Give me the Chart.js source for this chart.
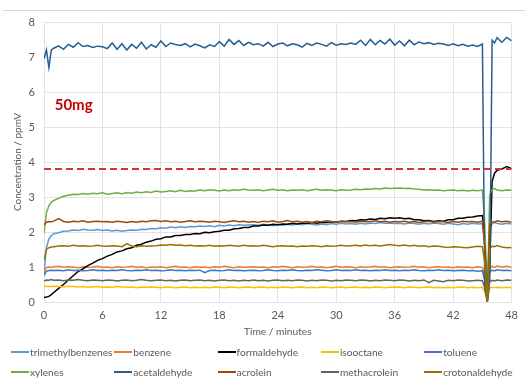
<!DOCTYPE html>
<html>
<head>
<meta charset="utf-8">
<script src="https://cdn.jsdelivr.net/npm/chart.js@4"></script>
<style>
    body { margin: 0; background: #ffffff; }
    #wrap { position: relative; width: 525px; height: 381px; background: #ffffff; font-family: Lato, 'Noto Sans', sans-serif; }
    #topRule { position: absolute; left: 3px; right: 0; top: 10px; border-top: 1px solid #d9d9d9; }
    #legend { position: absolute; left: 11px; top: 342px; display: grid; grid-template-columns: repeat(5, 103.3px); }
    .item { height: 20px; line-height: 20px; font-size: 10.2px; color: #595959; white-space: nowrap; }
    .swatch { display: inline-block; width: 18px; height: 2px; vertical-align: middle; margin-right: 1px; position: relative; top: -1px; }
</style>
</head>
<body>
<div id="wrap">
    <div id="topRule"></div>
    <canvas id="chart" width="525" height="381"></canvas>
    <div id="legend"></div>
</div>
<script>
// sample times (minutes); denser around the start and the purge at ~45.5 min
const timeMinutes = [
    0, 0.25, 0.5, 0.75, 1,
    1.5, 2, 2.5, 3, 3.5, 4, 4.5, 5, 5.5, 6,
    6.5, 7, 7.5, 8, 8.5, 9, 9.5, 10, 10.5, 11,
    11.5, 12, 12.5, 13, 13.5, 14, 14.5, 15, 15.5, 16,
    16.5, 17, 17.5, 18, 18.5, 19, 19.5, 20, 20.5, 21,
    21.5, 22, 22.5, 23, 23.5, 24, 24.5, 25, 25.5, 26,
    26.5, 27, 27.5, 28, 28.5, 29, 29.5, 30, 30.5, 31,
    31.5, 32, 32.5, 33, 33.5, 34, 34.5, 35, 35.5, 36,
    36.5, 37, 37.5, 38, 38.5, 39, 39.5, 40, 40.5, 41,
    41.5, 42, 42.5, 43, 43.5, 44, 44.5, 45,
    45.25, 45.5, 45.75, 46, 46.25, 46.5,
    47, 47.5, 48
];

const trimethylbenzenes = [
    0.80, 1.55, 1.80, 1.90, 1.95,
    1.98, 2.02, 2.03, 2.06, 2.04, 2.08, 2.06, 2.05, 2.07, 2.04,
    2.06, 2.03, 2.05, 2.02, 2.04, 2.06, 2.05, 2.08, 2.07, 2.10,
    2.09, 2.12, 2.11, 2.14, 2.12, 2.15, 2.13, 2.16, 2.15, 2.17,
    2.16, 2.18, 2.15, 2.19, 2.17, 2.20, 2.18, 2.21, 2.19, 2.20,
    2.21, 2.19, 2.22, 2.20, 2.18, 2.21, 2.19, 2.22, 2.20, 2.23,
    2.21, 2.24, 2.22, 2.20, 2.23, 2.21, 2.24, 2.22, 2.25, 2.23,
    2.24, 2.22, 2.25, 2.23, 2.26, 2.24, 2.27, 2.25, 2.26, 2.24,
    2.25, 2.23, 2.26, 2.24, 2.22, 2.25, 2.23, 2.26, 2.24, 2.22,
    2.25, 2.23, 2.21, 2.24, 2.22, 2.25, 2.23, 2.24,
    1.60, 0.02, 2.10, 2.24, 2.27, 2.25,
    2.22, 2.25, 2.23
];

const benzene = [
    0.85, 0.98, 1.00, 0.99, 1.01,
    1.02, 0.99, 1.01, 1.00, 0.98, 1.01, 0.99, 1.00, 1.02, 0.99,
    1.00, 0.98, 1.01, 0.99, 1.00, 1.02, 0.99, 1.01, 0.98, 1.00,
    0.99, 1.01, 0.98, 1.00, 1.02, 0.99, 1.00, 0.98, 1.01, 0.99,
    1.00, 0.98, 1.01, 0.99, 1.02, 1.00, 0.98, 1.01, 0.99, 1.00,
    1.01, 0.99, 1.00, 0.98, 1.01, 0.99, 1.02, 1.00, 0.98, 1.01,
    0.99, 1.00, 1.02, 0.99, 1.01, 0.98, 1.00, 1.02, 0.99, 1.01,
    1.00, 0.98, 1.01, 0.99, 1.00, 1.02, 0.99, 1.01, 0.98, 1.00,
    1.01, 0.99, 1.00, 1.02, 0.99, 1.01, 0.98, 1.00, 1.01, 0.99,
    1.00, 0.98, 1.01, 0.99, 1.00, 0.98, 1.01, 0.99,
    0.70, 0.00, 0.95, 1.02, 0.99, 1.03,
    1.00, 1.02, 0.99
];

const formaldehyde = [
    0.13, 0.14, 0.16, 0.21, 0.27,
    0.39, 0.50, 0.63, 0.75, 0.87, 0.95, 1.04, 1.11, 1.19, 1.24,
    1.31, 1.36, 1.43, 1.46, 1.52, 1.55, 1.62, 1.65, 1.71, 1.74,
    1.79, 1.81, 1.86, 1.86, 1.90, 1.90, 1.93, 1.93, 1.96, 1.95,
    1.99, 1.98, 2.01, 2.02, 2.05, 2.05, 2.09, 2.10, 2.13, 2.13,
    2.17, 2.17, 2.20, 2.19, 2.22, 2.21, 2.23, 2.22, 2.25, 2.23,
    2.26, 2.24, 2.27, 2.25, 2.28, 2.27, 2.29, 2.28, 2.31, 2.30,
    2.33, 2.32, 2.35, 2.34, 2.37, 2.36, 2.39, 2.38, 2.41, 2.39,
    2.41, 2.38, 2.39, 2.35, 2.35, 2.32, 2.33, 2.30, 2.32, 2.31,
    2.35, 2.35, 2.39, 2.39, 2.42, 2.43, 2.46, 2.47,
    1.80, 0.02, 1.00, 3.45, 3.68, 3.76,
    3.80, 3.87, 3.81
];

const isooctane = [
    0.45, 0.44, 0.45, 0.44, 0.45,
    0.44, 0.43, 0.45, 0.44, 0.43, 0.44, 0.42, 0.43, 0.44, 0.42,
    0.43, 0.42, 0.44, 0.43, 0.42, 0.43, 0.41, 0.43, 0.42, 0.43,
    0.42, 0.41, 0.43, 0.42, 0.41, 0.42, 0.43, 0.41, 0.42, 0.41,
    0.42, 0.41, 0.43, 0.42, 0.41, 0.43, 0.42, 0.41, 0.42, 0.43,
    0.41, 0.42, 0.43, 0.41, 0.42, 0.41, 0.43, 0.42, 0.41, 0.42,
    0.43, 0.41, 0.42, 0.41, 0.43, 0.42, 0.41, 0.42, 0.43, 0.41,
    0.42, 0.43, 0.41, 0.42, 0.41, 0.43, 0.42, 0.41, 0.42, 0.43,
    0.42, 0.41, 0.43, 0.42, 0.41, 0.42, 0.43, 0.41, 0.42, 0.41,
    0.42, 0.41, 0.42, 0.43, 0.41, 0.42, 0.41, 0.42,
    0.30, 0.00, 0.40, 0.42, 0.41, 0.42,
    0.41, 0.42, 0.41
];

const toluene = [
    0.75, 0.88, 0.90, 0.91, 0.90,
    0.91, 0.89, 0.92, 0.90, 0.91, 0.89, 0.90, 0.92, 0.90, 0.91,
    0.89, 0.91, 0.90, 0.92, 0.90, 0.89, 0.91, 0.90, 0.92, 0.90,
    0.91, 0.89, 0.90, 0.92, 0.90, 0.91, 0.89, 0.91, 0.90, 0.91,
    0.84, 0.90, 0.91, 0.89, 0.90, 0.92, 0.90, 0.91, 0.89, 0.90,
    0.91, 0.89, 0.90, 0.92, 0.90, 0.89, 0.91, 0.90, 0.92, 0.90,
    0.89, 0.91, 0.90, 0.92, 0.91, 0.89, 0.90, 0.92, 0.90, 0.91,
    0.90, 0.92, 0.90, 0.91, 0.89, 0.91, 0.90, 0.92, 0.90, 0.91,
    0.89, 0.91, 0.90, 0.92, 0.90, 0.89, 0.91, 0.90, 0.92, 0.90,
    0.91, 0.89, 0.90, 0.91, 0.89, 0.90, 0.88, 0.89,
    0.60, 0.00, 0.85, 0.91, 0.89, 0.92,
    0.90, 0.91, 0.89
];

const xylenes = [
    1.95, 2.55, 2.75, 2.85, 2.90,
    2.96, 3.02, 3.05, 3.08, 3.07, 3.10, 3.08, 3.11, 3.09, 3.12,
    3.08, 3.10, 3.12, 3.09, 3.13, 3.11, 3.14, 3.12, 3.15, 3.13,
    3.17, 3.14, 3.16, 3.18, 3.15, 3.19, 3.16, 3.18, 3.17, 3.20,
    3.18, 3.21, 3.19, 3.17, 3.20, 3.18, 3.21, 3.19, 3.22, 3.20,
    3.19, 3.21, 3.18, 3.20, 3.22, 3.19, 3.21, 3.18, 3.20, 3.19,
    3.21, 3.18, 3.20, 3.22, 3.19, 3.21, 3.20, 3.18, 3.21, 3.19,
    3.20, 3.22, 3.21, 3.23, 3.22, 3.24, 3.23, 3.26, 3.24, 3.25,
    3.26, 3.24, 3.25, 3.23, 3.22, 3.20, 3.21, 3.19, 3.20, 3.18,
    3.19, 3.20, 3.18, 3.19, 3.17, 3.19, 3.18, 3.20,
    2.20, 0.02, 3.05, 3.22, 3.24, 3.20,
    3.18, 3.20, 3.19
];

const acetaldehyde = [
    6.95, 7.20, 6.70, 7.20, 7.25,
    7.32, 7.22, 7.36, 7.28, 7.41, 7.30, 7.33, 7.27, 7.31, 7.29,
    7.24, 7.40, 7.22, 7.38, 7.20, 7.36, 7.25, 7.42, 7.23, 7.35,
    7.28, 7.46, 7.30, 7.40, 7.36, 7.33, 7.38, 7.29, 7.37, 7.32,
    7.26, 7.35, 7.30, 7.44, 7.31, 7.50, 7.36, 7.47, 7.33, 7.42,
    7.35, 7.38, 7.31, 7.42, 7.30, 7.37, 7.40, 7.32, 7.38, 7.35,
    7.28, 7.39, 7.33, 7.40, 7.36, 7.31, 7.41, 7.34, 7.38, 7.36,
    7.40, 7.36, 7.48, 7.33, 7.50, 7.35, 7.47, 7.37, 7.51, 7.34,
    7.46, 7.32, 7.48, 7.35, 7.43, 7.38, 7.41, 7.36, 7.39, 7.37,
    7.33, 7.38, 7.32, 7.36, 7.31, 7.34, 7.30, 7.37,
    0.40, 0.05, 0.60, 7.48, 7.40, 7.55,
    7.42, 7.56, 7.46
];

const acrolein = [
    2.20, 2.28, 2.30, 2.29, 2.31,
    2.38, 2.30, 2.28, 2.31, 2.29, 2.32, 2.28, 2.30, 2.31, 2.29,
    2.30, 2.28, 2.31, 2.29, 2.27, 2.30, 2.28, 2.31, 2.29, 2.32,
    2.33, 2.30, 2.32, 2.29, 2.31, 2.28, 2.30, 2.32, 2.29, 2.31,
    2.30, 2.28, 2.31, 2.29, 2.27, 2.30, 2.32, 2.29, 2.31, 2.28,
    2.30, 2.27, 2.31, 2.29, 2.32, 2.28, 2.30, 2.33, 2.29, 2.31,
    2.28, 2.30, 2.27, 2.31, 2.29, 2.32, 2.30, 2.28, 2.31, 2.29,
    2.30, 2.28, 2.31, 2.29, 2.30, 2.32, 2.29, 2.31, 2.28, 2.30,
    2.29, 2.31, 2.28, 2.30, 2.27, 2.29, 2.31, 2.28, 2.30, 2.29,
    2.27, 2.30, 2.28, 2.31, 2.29, 2.30, 2.28, 2.31,
    1.60, 0.03, 2.20, 2.30, 2.28, 2.32,
    2.29, 2.31, 2.28
];

const methacrolein = [
    0.60, 0.63, 0.62, 0.64, 0.62,
    0.63, 0.61, 0.63, 0.62, 0.64, 0.62, 0.61, 0.63, 0.62, 0.61,
    0.63, 0.62, 0.60, 0.62, 0.63, 0.61, 0.62, 0.64, 0.62, 0.61,
    0.62, 0.63, 0.61, 0.62, 0.60, 0.62, 0.63, 0.61, 0.62, 0.63,
    0.61, 0.62, 0.60, 0.62, 0.63, 0.61, 0.62, 0.60, 0.62, 0.61,
    0.63, 0.61, 0.62, 0.60, 0.62, 0.63, 0.61, 0.62, 0.61, 0.63,
    0.62, 0.60, 0.62, 0.61, 0.63, 0.62, 0.60, 0.62, 0.61, 0.63,
    0.62, 0.61, 0.63, 0.62, 0.60, 0.62, 0.61, 0.63, 0.62, 0.61,
    0.63, 0.62, 0.60, 0.62, 0.61, 0.63, 0.55, 0.62, 0.60, 0.58,
    0.62, 0.61, 0.63, 0.62, 0.60, 0.61, 0.62, 0.61,
    0.40, 0.00, 0.58, 0.62, 0.60, 0.63,
    0.61, 0.63, 0.62
];

const crotonaldehyde = [
    1.20, 1.50, 1.55, 1.57, 1.58,
    1.60, 1.61, 1.59, 1.62, 1.60, 1.61, 1.59, 1.60, 1.62, 1.60,
    1.59, 1.61, 1.60, 1.58, 1.67, 1.60, 1.58, 1.61, 1.59, 1.60,
    1.61, 1.63, 1.62, 1.64, 1.62, 1.63, 1.61, 1.62, 1.60, 1.61,
    1.60, 1.62, 1.59, 1.61, 1.60, 1.62, 1.61, 1.59, 1.62, 1.60,
    1.61, 1.59, 1.62, 1.60, 1.58, 1.60, 1.61, 1.59, 1.60, 1.58,
    1.60, 1.59, 1.61, 1.60, 1.58, 1.61, 1.59, 1.60, 1.62, 1.60,
    1.61, 1.62, 1.60, 1.63, 1.61, 1.62, 1.60, 1.62, 1.64, 1.62,
    1.61, 1.63, 1.60, 1.62, 1.59, 1.61, 1.58, 1.60, 1.59, 1.57,
    1.56, 1.58, 1.57, 1.56, 1.55, 1.57, 1.59, 1.58,
    1.10, 0.00, 1.50, 1.60, 1.58, 1.61,
    1.57, 1.55, 1.56
];

// 3.8 ppmV reference level (dashed)
const limitTime = [0, 48];
const limitValue = [3.8, 3.8];

const seriesNames = ['trimethylbenzenes', 'benzene', 'formaldehyde', 'isooctane', 'toluene',
    'xylenes', 'acetaldehyde', 'acrolein', 'methacrolein', 'crotonaldehyde'];
const seriesValues = [trimethylbenzenes, benzene, formaldehyde, isooctane, toluene,
    xylenes, acetaldehyde, acrolein, methacrolein, crotonaldehyde];
const seriesColors = ['#5B9BD5', '#ED7D31', '#000000', '#FFC000', '#4472C4',
    '#70AD47', '#255E91', '#9E480E', '#636363', '#997300'];

const textColor = '#595959';
const gridColor = '#e3e3e3';

document.addEventListener('DOMContentLoaded', function () {
    const datasets = seriesNames.map(function (name, i) {
        return {
            label: name,
            data: timeMinutes.map((t, k) => ({ x: t, y: seriesValues[i][k] })),
            borderColor: seriesColors[i],
            backgroundColor: seriesColors[i],
            borderWidth: 1.5,
            pointRadius: 0,
            tension: 0,
            order: seriesNames.length - i   // later series drawn on top, like Excel
        };
    });

    datasets.push({
        label: 'limit',
        data: limitTime.map((t, k) => ({ x: t, y: limitValue[k] })),
        borderColor: '#D0392F',
        borderWidth: 1.8,
        borderDash: [7, 4],
        pointRadius: 0,
        order: -1
    });

    // "50mg" label placed in data units
    const massLabel = {
        id: 'massLabel',
        afterDatasetsDraw(chart) {
            const ctx = chart.ctx;
            const x = chart.scales.x.getPixelForValue(1.1);
            const y = chart.scales.y.getPixelForValue(5.63);
            ctx.save();
            ctx.font = 'bold 15px Lato, sans-serif';
            ctx.fillStyle = '#C00000';
            ctx.textAlign = 'left';
            ctx.textBaseline = 'middle';
            ctx.fillText('50mg', x, y);
            ctx.restore();
        }
    };

    const ctx = document.getElementById('chart').getContext('2d');
    const chart = new Chart(ctx, {
        type: 'line',
        data: { datasets: datasets },
        options: {
            responsive: false,
            animation: false,
            layout: { padding: { top: 22, right: 13, bottom: 43, left: 0 } },
            plugins: {
                legend: { display: false },
                tooltip: { enabled: false }
            },
            scales: {
                x: {
                    type: 'linear',
                    min: 0,
                    max: 48,
                    afterFit: function (scale) { scale.height = 36; },
                    ticks: {
                        stepSize: 6,
                        padding: 7,
                        color: textColor,
                        font: { family: 'Lato', size: 11 },
                        maxRotation: 0
                    },
                    grid: { color: gridColor, drawTicks: false },
                    border: { color: gridColor },
                    title: {
                        display: true,
                        text: 'Time / minutes',
                        color: textColor,
                        font: { family: 'Lato', size: 10.2 },
                        padding: { top: 0, bottom: 0 }
                    }
                },
                y: {
                    min: 0,
                    max: 8,
                    afterFit: function (scale) { scale.width = 44; },
                    ticks: {
                        stepSize: 1,
                        padding: 9,
                        color: textColor,
                        font: { family: 'Lato', size: 11 }
                    },
                    grid: { color: gridColor, drawTicks: false },
                    border: { color: gridColor },
                    title: {
                        display: true,
                        text: 'Concentration / ppmV',
                        color: textColor,
                        font: { family: 'Lato', size: 10 },
                        padding: { top: 12, bottom: 0 }
                    }
                }
            }
        },
        plugins: [massLabel]
    });

    // legend in fixed columns, as in the original
    const legend = document.getElementById('legend');
    chart.data.datasets.slice(0, seriesNames.length).forEach(function (ds) {
        const item = document.createElement('div');
        item.className = 'item';
        const swatch = document.createElement('span');
        swatch.className = 'swatch';
        swatch.style.background = ds.borderColor;
        item.appendChild(swatch);
        item.appendChild(document.createTextNode(ds.label));
        legend.appendChild(item);
    });
});
</script>
</body>
</html>
